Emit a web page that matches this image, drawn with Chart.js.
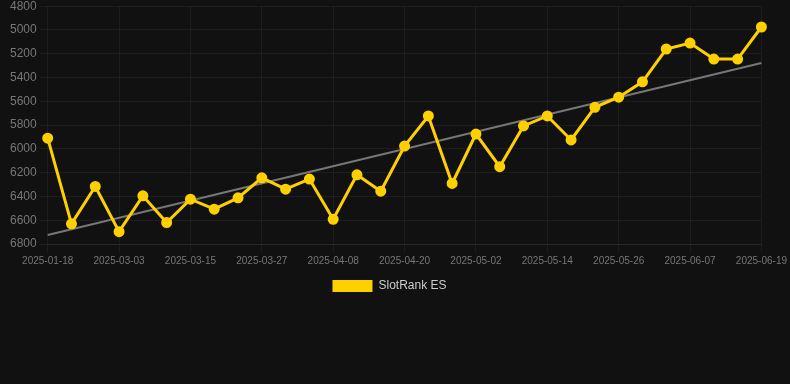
<!DOCTYPE html>
<html>
<head>
<meta charset="utf-8">
<script src="https://cdn.jsdelivr.net/npm/chart.js@4/dist/chart.umd.min.js"></script>
<style>
  html, body { margin: 0; padding: 0; background: #111111; overflow: hidden; }
  #wrap { width: 790px; height: 306px; margin-top: -4px; position: relative; }
</style>
</head>
<body>
<div id="wrap"><canvas id="rank"></canvas></div>
<script>
// dates of each sample (only every 3rd is labelled on the axis)
const dates = [
  '2025-01-18', '2025-02-23', '2025-02-27', '2025-03-03', '2025-03-07', '2025-03-11',
  '2025-03-15', '2025-03-19', '2025-03-23', '2025-03-27', '2025-03-31', '2025-04-04',
  '2025-04-08', '2025-04-12', '2025-04-16', '2025-04-20', '2025-04-24', '2025-04-28',
  '2025-05-02', '2025-05-06', '2025-05-10', '2025-05-14', '2025-05-18', '2025-05-22',
  '2025-05-26', '2025-05-30', '2025-06-03', '2025-06-07', '2025-06-11', '2025-06-15',
  '2025-06-19'
];

// rank (lower is better, axis is reversed)
const rankES = [
  5910, 6630, 6316, 6696, 6395, 6620, 6423, 6507, 6412, 6243,
  6339, 6254, 6592, 6218, 6356, 5976, 5723, 6291, 5875, 6150,
  5807, 5723, 5925, 5650, 5565, 5436, 5160, 5110, 5245, 5245,
  4975
];

// trend line: only the two end values, the library joins them
const trendStart = 6724;
const trendEnd   = 5278;
const trend = dates.map((_, i) => i === 0 ? trendStart : (i === dates.length - 1 ? trendEnd : null));

const yellow = '#ffd000';
const font = 'Liberation Sans, Arial, sans-serif';

new Chart(document.getElementById('rank'), {
  type: 'line',
  data: {
    labels: dates,
    datasets: [
      {
        label: 'SlotRank ES',
        data: rankES,
        borderColor: yellow,
        backgroundColor: yellow,
        borderWidth: 3,
        pointRadius: 4,
        pointBackgroundColor: yellow,
        pointBorderColor: yellow,
        tension: 0
      },
      {
        label: 'trend',
        data: trend,
        borderColor: '#777777',
        borderWidth: 2,
        pointRadius: 0,
        spanGaps: true,
        tension: 0
      }
    ]
  },
  options: {
    responsive: true,
    maintainAspectRatio: false,
    animation: false,
    layout: { padding: { left: 7, right: 18 } },
    plugins: {
      legend: {
        position: 'bottom',
        labels: {
          color: '#cccccc',
          font: { size: 12, family: font },
          boxWidth: 40,
          boxHeight: 12,
          generateLabels: chart => Chart.defaults.plugins.legend.labels.generateLabels(chart)
            .filter(item => item.text !== 'trend')
            .map(item => Object.assign(item, { lineWidth: 0 }))
        }
      },
      tooltip: { enabled: false }
    },
    scales: {
      x: {
        grid: { color: 'rgba(255,255,255,0.05)' },
        border: { color: 'rgba(255,255,255,0.06)' },
        ticks: {
          color: '#777777',
          autoSkip: false,
          maxRotation: 0,
          font: { size: 10, family: font },
          callback: function (val, i) {
            return i % 3 === 0 ? this.getLabelForValue(val) : null;
          }
        }
      },
      y: {
        reverse: true,
        min: 4800,
        max: 6800,
        grid: { color: 'rgba(255,255,255,0.05)' },
        border: { display: false },
        ticks: {
          stepSize: 200,
          color: '#777777',
          font: { size: 12, family: font },
          callback: v => String(v)
        }
      }
    }
  }
});
</script>
</body>
</html>
